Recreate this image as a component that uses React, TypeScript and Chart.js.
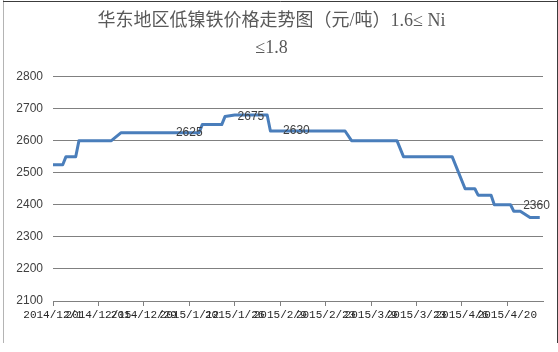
import React, { useEffect, useRef } from 'react';
import { Chart, registerables } from 'chart.js';

Chart.register(...registerables);

// ---- data ----
const titleLines = ['华东地区低镍铁价格走势图（元/吨）1.6≤ Ni', '≤1.8'];

const axisStartDate = '2014/12/1';
const axisEndDate = '2015/5/1';

const priceDates = [
  '2014/12/1', '2014/12/4', '2014/12/5', '2014/12/8', '2014/12/9',
  '2014/12/19', '2014/12/22', '2015/1/15', '2015/1/16', '2015/1/22',
  '2015/1/23', '2015/1/26', '2015/2/5', '2015/2/6', '2015/3/1',
  '2015/3/3', '2015/3/17', '2015/3/19', '2015/4/3', '2015/4/7',
  '2015/4/10', '2015/4/11', '2015/4/15', '2015/4/16', '2015/4/21',
  '2015/4/22', '2015/4/24', '2015/4/27', '2015/4/30',
];
const prices = [
  2525, 2525, 2550, 2550, 2600,
  2600, 2625, 2625, 2650, 2650,
  2675, 2680, 2680, 2630, 2630,
  2600, 2600, 2550, 2550, 2450,
  2450, 2430, 2430, 2400, 2400,
  2380, 2380, 2360, 2360,
];

const tickLabels = [
  '2014/12/1', '2014/12/15', '2014/12/29', '2015/1/12', '2015/1/26',
  '2015/2/9', '2015/2/23', '2015/3/9', '2015/3/23', '2015/4/6', '2015/4/20',
];
const tickStepDays = 14;

const yMin = 2100;
const yMax = 2800;
const yStep = 100;

const valueLabelDates = ['2015/1/12', '2015/1/31', '2015/2/14', '2015/4/29'];
const valueLabelValues = [2625, 2675, 2630, 2360];
const valueLabelPlacement = ['center', 'center', 'center', 'above'];

// ---- helpers ----
function toUTC(d: string): number {
  const [y, m, dd] = d.split('/').map(Number);
  return Date.UTC(y, m - 1, dd);
}
function dayOffset(d: string): number {
  return Math.round((toUTC(d) - toUTC(axisStartDate)) / 86400000);
}

const CJK_SERIF = '"Liberation Serif", "Noto Sans CJK SC", serif';

const valueLabelPlugin = {
  id: 'valueLabels',
  afterDatasetsDraw(chart: any) {
    const { ctx, scales } = chart;
    const xs = scales.x;
    const ys = scales.y;
    ctx.save();
    ctx.font = '12px "Liberation Sans", Arial, sans-serif';
    ctx.fillStyle = '#404040';
    ctx.textAlign = 'center';
    ctx.textBaseline = 'middle';
    valueLabelDates.forEach((d, i) => {
      const px = xs.getPixelForValue(dayOffset(d));
      let py = ys.getPixelForValue(valueLabelValues[i]);
      if (valueLabelPlacement[i] === 'above') py -= 12;
      ctx.fillText(String(valueLabelValues[i]), px, py);
    });
    ctx.restore();
  },
};

const framePlugin = {
  id: 'frame',
  beforeDraw(chart: any) {
    const { ctx, width, height } = chart;
    ctx.save();
    ctx.fillStyle = '#ffffff';
    ctx.fillRect(0, 0, width, height);
    ctx.restore();
  },
  afterDraw(chart: any) {
    const { ctx } = chart;
    ctx.save();
    ctx.lineWidth = 1;
    ctx.strokeStyle = '#b4b4b4';
    ctx.beginPath();
    ctx.moveTo(3.5, 0);
    ctx.lineTo(3.5, 343);
    ctx.stroke();
    ctx.strokeStyle = '#3c3c3c';
    ctx.beginPath();
    ctx.moveTo(3, 1.5);
    ctx.lineTo(557.5, 1.5);
    ctx.moveTo(557.5, 0);
    ctx.lineTo(557.5, 343);
    ctx.stroke();
    ctx.restore();
  },
};

export default function App() {
  const canvasRef = useRef<HTMLCanvasElement | null>(null);

  useEffect(() => {
    const canvas = canvasRef.current;
    if (!canvas) return;
    const points = priceDates.map((d, i) => ({ x: dayOffset(d), y: prices[i] }));

    const chart = new Chart(canvas, {
      type: 'line',
      data: {
        datasets: [
          {
            data: points,
            borderColor: '#4a7ebb',
            borderWidth: 3,
            pointRadius: 0,
            pointHoverRadius: 0,
            tension: 0,
            fill: false,
            borderJoinStyle: 'round',
          },
        ],
      },
      options: {
        responsive: false,
        animation: false,
        events: [],
        layout: { padding: { left: 0, right: 15, top: 0, bottom: 0 } },
        plugins: {
          legend: { display: false },
          tooltip: { enabled: false },
          title: {
            display: true,
            text: titleLines,
            color: '#595959',
            font: { family: CJK_SERIF, size: 18, weight: 'normal', lineHeight: 1.5 },
            padding: { top: 7.5, bottom: 15 },
          },
        },
        scales: {
          x: {
            type: 'linear',
            min: 0,
            max: dayOffset(axisEndDate),
            afterBuildTicks: (scale: any) => {
              scale.ticks = tickLabels.map((_, i) => ({ value: i * tickStepDays }));
            },
            afterFit: (scale: any) => {
              scale.height = 51;
            },
            ticks: {
              autoSkip: false,
              maxRotation: 0,
              minRotation: 0,
              padding: 2,
              color: '#262626',
              font: { family: '"Liberation Mono", monospace', size: 11 },
              callback: (v: any) => tickLabels[Math.round(Number(v) / tickStepDays)] ?? '',
            },
            grid: {
              display: true,
              drawOnChartArea: false,
              drawTicks: true,
              tickLength: 5,
              color: '#808080',
            },
            border: { display: true, color: '#808080', width: 1 },
          },
          y: {
            type: 'linear',
            min: yMin,
            max: yMax,
            afterFit: (scale: any) => {
              scale.width = 53;
            },
            ticks: {
              stepSize: yStep,
              padding: 10,
              color: '#404040',
              font: { family: '"Liberation Sans", Arial, sans-serif', size: 12 },
              callback: (v: any) => String(v),
            },
            grid: {
              color: '#808080',
              lineWidth: 1,
              drawTicks: false,
            },
            border: { display: false },
          },
        },
      },
      plugins: [framePlugin, valueLabelPlugin],
    } as any);

    return () => chart.destroy();
  }, []);

  return (
    <div style={{ position: 'fixed', left: 0, top: 0, width: 558, height: 352, background: '#fff' }}>
      <canvas ref={canvasRef} width={558} height={352} style={{ width: 558, height: 352, display: 'block' }} />
    </div>
  );
}
